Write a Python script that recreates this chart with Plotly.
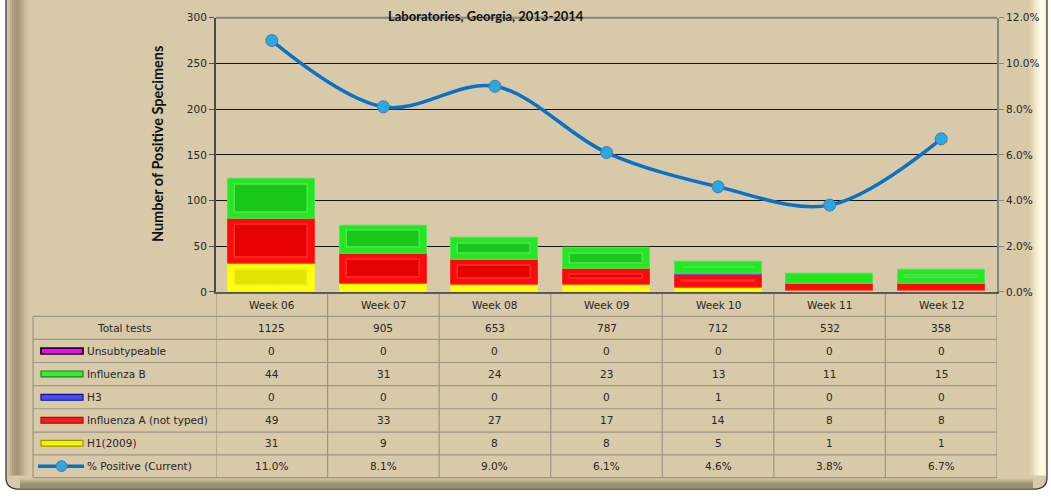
import plotly.graph_objects as go

W, H = 1051, 498

weeks = ["Week 06", "Week 07", "Week 08", "Week 09", "Week 10", "Week 11", "Week 12"]
total_tests = [1125, 905, 653, 787, 712, 532, 358]
unsubtypeable = [0, 0, 0, 0, 0, 0, 0]
influenza_b = [44, 31, 24, 23, 13, 11, 15]
h3 = [0, 0, 0, 0, 1, 0, 0]
influenza_a = [49, 33, 27, 17, 14, 8, 8]
h1_2009 = [31, 9, 8, 8, 5, 1, 1]
pct_positive = [0.110, 0.081, 0.090, 0.061, 0.046, 0.038, 0.067]

title_text = "Laboratories, Georgia, 2013-2014"
y_title = "Number of Positive Specimens"

def px(x):
    return x / W

def py(y):
    return 1 - y / H

PL, PR, PT, PB = 216, 997, 12, 293
YMAX = 300
unit_px = (PB - PT) / YMAX

BG = "#D8C9A9"
FONT = "DejaVu Sans"
TXT = "#262626"

fig = go.Figure()

series = [
    ("H1(2009)", h1_2009, "#FFFF00", "#E4E400", "#F0F040"),
    ("Influenza A (not typed)", influenza_a, "#FF0A0A", "#E60000", "#F23030"),
    ("H3", h3, "#3A3AF0", "#2424CC", "#6060F0"),
    ("Influenza B", influenza_b, "#22E822", "#18C818", "#58E058"),
    ("Unsubtypeable", unsubtypeable, "#FF00FF", "#D000D0", "#FF60FF"),
]
bar_w = 0.78
inset_x = 7 / ((PR - PL) / 7)
inset_y = 6 / unit_px
cum = [0] * len(weeks)
for name, vals, outer, inner, light in series:
    bases = list(cum)
    out_h = [v if v > 0 else None for v in vals]
    fig.add_trace(go.Bar(
        x=weeks, y=out_h, base=bases, width=bar_w, name=name,
        marker=dict(color=outer, line=dict(color=light, width=1)),
        showlegend=False, hoverinfo="skip", yaxis="y"))
    in_h = [v - 2 * inset_y if v - 2 * inset_y > 0 else None for v in vals]
    in_b = [b + inset_y for b in bases]
    fig.add_trace(go.Bar(
        x=weeks, y=in_h, base=in_b, width=bar_w - 2 * inset_x,
        marker=dict(color=inner, line=dict(color=light, width=1.5)),
        showlegend=False, hoverinfo="skip", yaxis="y"))
    cum = [c + v for c, v in zip(cum, vals)]

fig.add_trace(go.Scatter(
    x=weeks, y=pct_positive, yaxis="y2", mode="lines+markers",
    line=dict(color="#0A72C4", width=3.5, shape="spline", smoothing=1.0),
    marker=dict(size=12, color="#27A9E6", line=dict(color="#5C7390", width=1)),
    showlegend=False, hoverinfo="skip"))

shapes = []
r = 12
L0, R0, B0 = 6, 1047, 495
frame_path = (f"M {px(L0)},{py(-20)} L {px(L0)},{py(B0 - r)} "
              f"Q {px(L0)},{py(B0)} {px(L0 + r)},{py(B0)} "
              f"L {px(R0 - r)},{py(B0)} Q {px(R0)},{py(B0)} {px(R0)},{py(B0 - r)} "
              f"L {px(R0)},{py(-20)} Z")
shapes.append(dict(type="path", path=frame_path, xref="paper", yref="paper",
                   fillcolor=BG, line=dict(width=0), layer="below"))
left_cols = ["#CDBE9E", "#BFB090", "#B0A181", "#A89979", "#A69777", "#AA9B7B",
             "#B3A484", "#BDAE8E", "#C7B898", "#D0C1A1", "#D5C6A6"]
for i, c in enumerate(left_cols):
    x0 = 8 + 2 * i
    shapes.append(dict(type="rect", xref="paper", yref="paper",
                       x0=px(x0), x1=px(x0 + 2), y0=py(B0 - 14), y1=py(-20),
                       fillcolor=c, line=dict(width=0), layer="below"))
right_cols = ["#DCCEAE", "#E3D6B6", "#EBDFC0", "#F3E9CC", "#FAF2D8", "#FFF9E2",
              "#FFFBE8", "#FFF8DE", "#F4EAC8"]
for i, c in enumerate(right_cols):
    x0 = 1029 + 2 * i
    shapes.append(dict(type="rect", xref="paper", yref="paper",
                       x0=px(x0), x1=px(x0 + 2), y0=py(B0 - 14), y1=py(-20),
                       fillcolor=c, line=dict(width=0), layer="below"))
bot_cols = ["#D2C3A3", "#C8B999", "#BBAD8D", "#ADA080", "#9E9374", "#928969",
            "#8B8363", "#878060", "#8A8363", "#958E70"]
for i, c in enumerate(bot_cols):
    y0 = 484 + i
    shapes.append(dict(type="rect", xref="paper", yref="paper",
                       x0=px(L0 + 14), x1=px(R0 - 14), y0=py(y0 + 1), y1=py(y0),
                       fillcolor=c, line=dict(width=0), layer="below"))
border_path = (f"M {px(L0)},{py(-20)} L {px(L0)},{py(B0 - r)} "
               f"Q {px(L0)},{py(B0)} {px(L0 + r)},{py(B0)} "
               f"L {px(R0 - r)},{py(B0)} Q {px(R0)},{py(B0)} {px(R0)},{py(B0 - r)} "
               f"L {px(R0)},{py(-20)}")
shapes.append(dict(type="path", path=border_path, xref="paper", yref="paper",
                   line=dict(color="#3A3A3A", width=1.3), layer="below"))

shapes.append(dict(type="line", xref="paper", yref="paper",
                   x0=px(PL), x1=px(PR), y0=py(PT), y1=py(PT),
                   line=dict(color="#858585", width=2), layer="above"))

GRID = "#9C9684"
row_lines = [318, 341.7, 365.3, 389, 412.7, 436.7, 460, 483.3]
TL = 33
for yl in row_lines:
    shapes.append(dict(type="line", xref="paper", yref="paper",
                       x0=px(TL), x1=px(PR), y0=py(yl), y1=py(yl),
                       line=dict(color=GRID, width=1.2), layer="below"))
shapes.append(dict(type="line", xref="paper", yref="paper",
                   x0=px(TL), x1=px(TL), y0=py(318), y1=py(483.3),
                   line=dict(color=GRID, width=1.2), layer="below"))
for i in range(len(weeks) + 1):
    shapes.append(dict(type="line", xref="x", yref="paper",
                       x0=i - 0.5, x1=i - 0.5, y0=py(PB), y1=py(483.3),
                       line=dict(color=GRID, width=1.2), layer="below"))

row_centers = [330, 353.5, 377, 401, 424.5, 448, 471.5]
header_center = 306
annotations = []

def txt(x, xref, y, text, xanchor="center", size=10.5):
    return dict(x=x, xref=xref, y=y, yref="paper", text=text, showarrow=False,
                xanchor=xanchor, yanchor="middle",
                font=dict(family=FONT, size=size, color=TXT))

for wk in weeks:
    annotations.append(txt(wk, "x", py(header_center), wk))
table_rows = [
    total_tests,
    unsubtypeable,
    influenza_b,
    h3,
    influenza_a,
    h1_2009,
    [f"{v * 100:.1f}%" for v in pct_positive],
]
for rc, vals in zip(row_centers, table_rows):
    for wk, v in zip(weeks, vals):
        annotations.append(txt(wk, "x", py(rc), str(v)))

annotations.append(txt(px((TL + PL) / 2), "paper", py(row_centers[0]), "Total tests"))
row_labels = ["Unsubtypeable", "Influenza B", "H3", "Influenza A (not typed)", "H1(2009)",
              "% Positive (Current)"]
for rc, lab in zip(row_centers[1:], row_labels):
    annotations.append(txt(px(85), "paper", py(rc), lab, xanchor="left"))

sw = [
    (row_centers[1], "#FF00FF", "#101010", 1.8),
    (row_centers[2], "#3CE83C", "#0E8E0E", 1.2),
    (row_centers[3], "#4A4AF0", "#101090", 1.2),
    (row_centers[4], "#FF1A1A", "#A01010", 1.2),
    (row_centers[5], "#F4F400", "#9A9A00", 1.2),
]
for rc, fc, lc, lw in sw:
    shapes.append(dict(type="rect", xref="paper", yref="paper",
                       x0=px(41), x1=px(83), y0=py(rc + 3), y1=py(rc - 3),
                       fillcolor=fc, line=dict(color=lc, width=lw), layer="above"))
rc = row_centers[6]
shapes.append(dict(type="line", xref="paper", yref="paper",
                   x0=px(38), x1=px(84), y0=py(rc), y1=py(rc),
                   line=dict(color="#0A72C4", width=3.5), layer="above"))
shapes.append(dict(type="circle", xref="paper", yref="paper",
                   x0=px(56), x1=px(67), y0=py(rc + 5.5), y1=py(rc - 5.5),
                   fillcolor="#27A9E6", line=dict(color="#5C7390", width=1), layer="above"))

annotations.append(dict(x=px(486), xref="paper", y=1, yref="paper",
                        xanchor="center", yanchor="top",
                        text=f"<b>{title_text}</b>", showarrow=False,
                        font=dict(family="Lato", size=13, color="#111111")))
annotations.append(dict(x=px(157), xref="paper", y=py(141.5), yref="paper",
                        xanchor="center", yanchor="middle",
                        text=f"<b>{y_title}</b>", textangle=-90, showarrow=False,
                        font=dict(family="Lato", size=14.5, color="#111111")))

fig.update_layout(
    width=W, height=H,
    margin=dict(l=0, r=0, t=0, b=0),
    paper_bgcolor="white",
    plot_bgcolor="rgba(0,0,0,0)",
    barmode="overlay",
    bargap=0,
    shapes=shapes,
    annotations=annotations,
    xaxis=dict(domain=[px(PL), px(PR)], type="category", categoryorder="array",
               categoryarray=weeks, range=[-0.5, len(weeks) - 0.5],
               showticklabels=False, ticks="", showgrid=False, zeroline=False,
               showline=True, linecolor="#5A5A5A", linewidth=1.5, fixedrange=True),
    yaxis=dict(domain=[py(PB), py(PT)], range=[0, YMAX], tickmode="linear", tick0=0, dtick=50,
               ticks="outside", ticklen=5, tickcolor="#505050", tickwidth=1,
               showline=True, linecolor="#4A4A4A", linewidth=2,
               showgrid=True, gridcolor="#141414", gridwidth=1, zeroline=False,
               tickfont=dict(family=FONT, size=10.5, color=TXT), fixedrange=True),
    yaxis2=dict(overlaying="y", side="right", range=[0, 0.12], tickmode="linear", tick0=0,
                dtick=0.02, tickformat=".1%", ticks="outside", ticklen=5, tickcolor="#858585",
                showline=True, linecolor="#858585", linewidth=2, showgrid=False, zeroline=False,
                tickfont=dict(family=FONT, size=10.5, color=TXT), fixedrange=True),
    showlegend=False,
)

fig.write_html("out.html", config={"displayModeBar": False},
               post_script="document.body.style.margin='0';document.body.style.overflow='hidden';")
